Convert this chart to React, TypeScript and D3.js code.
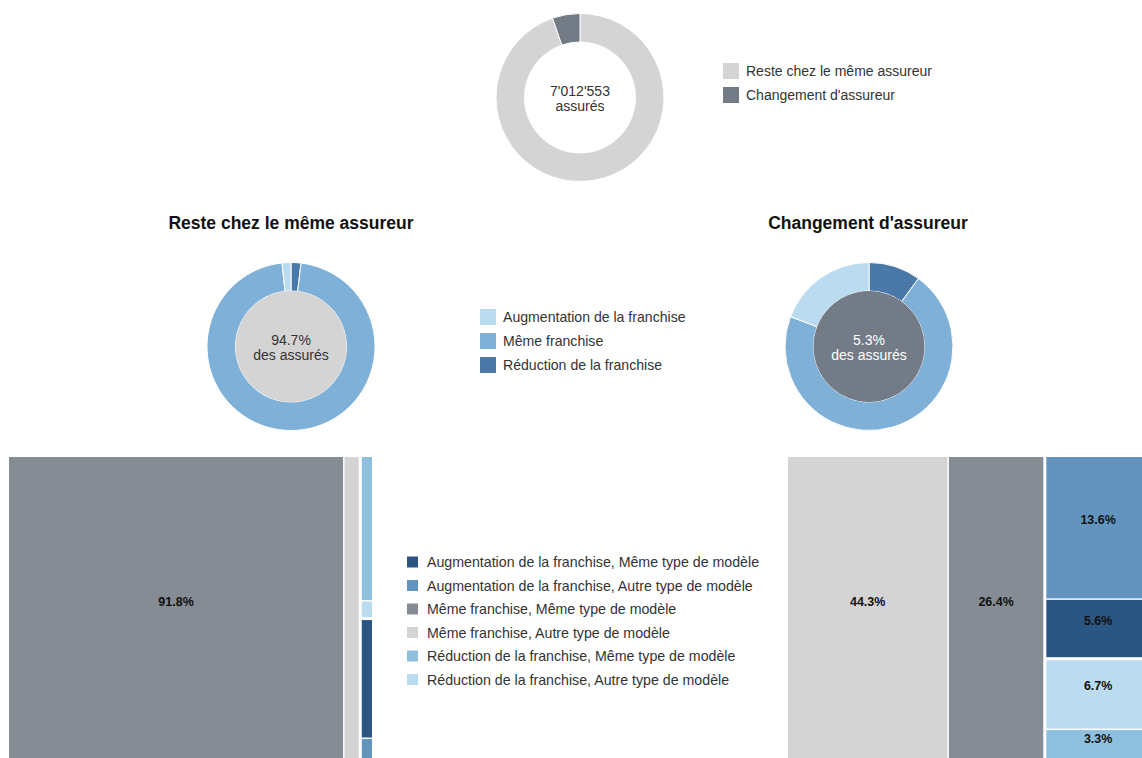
import React from "react";
import * as d3 from "d3";

const FONT = "'Liberation Sans', Arial, Helvetica, sans-serif";

// Top donut: all insured persons
const topLabels = ["Reste chez le même assureur", "Changement d'assureur"];
const topValues = [94.7, 5.3];
const topColors = ["#d4d4d4", "#737b87"];
const totalInsured = "7'012'553";

// Deductible change per group (legend order)
const franchiseLabels = ["Augmentation de la franchise", "Même franchise", "Réduction de la franchise"];
const franchiseColors = ["#bbdcf0", "#7fb0d8", "#4a78a8"];
const resteShares = [1.7, 96.1, 1.9];
const changementShares = [19.2, 70.7, 10.0];

// Treemaps: deductible x model type
const treeCategories = [
  "Augmentation de la franchise, Même type de modèle",
  "Augmentation de la franchise, Autre type de modèle",
  "Même franchise, Même type de modèle",
  "Même franchise, Autre type de modèle",
  "Réduction de la franchise, Même type de modèle",
  "Réduction de la franchise, Autre type de modèle",
];
const treeColors = ["#2b5582", "#6294be", "#858c93", "#d4d4d4", "#8fbfdf", "#bbdcf0"];
const resteTree = [1.4, 0.3, 91.8, 4.3, 1.7, 0.2];
const changementTree = [5.6, 13.6, 26.4, 44.3, 3.3, 6.7];

interface DonutProps {
  cx: number;
  cy: number;
  values: number[];
  colors: string[];
  centerFill?: string;
  lines: string[];
  textColor: string;
}

function Donut({ cx, cy, values, colors, centerFill, lines, textColor }: DonutProps) {
  const pie = d3.pie<number>().sort(null).value((d) => d);
  const arc = d3.arc<d3.PieArcDatum<number>>().innerRadius(55.5).outerRadius(84);
  const arcs = pie(values);
  return (
    <g transform={`translate(${cx},${cy})`}>
      {arcs.map((a, i) => (
        <path key={i} d={arc(a) ?? ""} fill={colors[i]} stroke="#fff" strokeWidth={1} />
      ))}
      {centerFill && <circle r={55.5} fill={centerFill} />}
      {lines.map((t, i) => (
        <text key={i} y={-2 + i * 15.5} textAnchor="middle" fontSize={14} fill={textColor}>
          {t}
        </text>
      ))}
    </g>
  );
}

interface LegendProps {
  x: number;
  y: number;
  labels: string[];
  colors: string[];
  size: number;
  step: number;
  textX: number;
  fontSize?: number;
}

function Legend({ x, y, labels, colors, size, step, textX, fontSize = 14 }: LegendProps) {
  return (
    <g transform={`translate(${x},${y})`}>
      {labels.map((l, i) => (
        <g key={l} transform={`translate(0,${i * step})`}>
          <rect x={0} y={-size / 2} width={size} height={size} fill={colors[i]} />
          <text x={textX} y={5} fontSize={fontSize} fill="#333">
            {l}
          </text>
        </g>
      ))}
    </g>
  );
}

interface Leaf {
  name: string;
  value?: number;
  color?: string;
  children?: Leaf[];
}

function Treemap({ x0, y0, x1, y1, values }: { x0: number; y0: number; x1: number; y1: number; values: number[] }) {
  const groups = Array.from(new Set(treeCategories.map((c) => c.split(", ")[0])));
  const data: Leaf = {
    name: "root",
    children: groups.map((g) => ({
      name: g,
      children: treeCategories
        .map((c, i) => ({ name: c, value: values[i], color: treeColors[i] }))
        .filter((c) => c.name.startsWith(g + ",")),
    })),
  };
  const root = d3
    .hierarchy<Leaf>(data)
    .sum((d) => d.value ?? 0)
    .sort((a, b) => (b.value ?? 0) - (a.value ?? 0));
  d3
    .treemap<Leaf>()
    .tile(d3.treemapSquarify)
    .size([x1 - x0, y1 - y0])
    .paddingInner((n) => (n.depth === 0 ? 3 : 1.5))(root);
  const leaves = root.leaves() as d3.HierarchyRectangularNode<Leaf>[];
  return (
    <g transform={`translate(${x0},${y0})`}>
      {leaves.map((l) => {
        const w = l.x1 - l.x0;
        const h = l.y1 - l.y0;
        return (
          <g key={l.data.name}>
            <rect x={l.x0} y={l.y0} width={w} height={h} fill={l.data.color} />
            {w > 30 && h > 20 && (
              <text
                x={(l.x0 + l.x1) / 2}
                y={(l.y0 + l.y1) / 2 - 4}
                textAnchor="middle"
                fontSize={12.5}
                fontWeight="bold"
                fill="#111"
              >
                {`${d3.format(".1f")(l.data.value ?? 0)}%`}
              </text>
            )}
          </g>
        );
      })}
    </g>
  );
}

export default function App() {
  const rev = <T,>(a: T[]) => [...a].reverse();
  return (
    <div style={{ position: "absolute", left: 0, top: 0 }}>
      <svg width={1142} height={758} style={{ display: "block", fontFamily: FONT }}>
        <rect width={1142} height={758} fill="#fff" />

        <Donut cx={580} cy={97.5} values={topValues} colors={topColors} lines={[totalInsured, "assurés"]} textColor="#333" />
        <Legend x={723} y={71} labels={topLabels} colors={topColors} size={16} step={24} textX={23} />

        <text x={291} y={229} textAnchor="middle" fontSize={17.5} fontWeight="bold" fill="#111">
          {topLabels[0]}
        </text>
        <text x={868} y={229} textAnchor="middle" fontSize={17.5} fontWeight="bold" fill="#111">
          {topLabels[1]}
        </text>

        <Donut
          cx={291}
          cy={346.5}
          values={rev(resteShares)}
          colors={rev(franchiseColors)}
          centerFill="#d4d4d4"
          lines={[`${topValues[0]}%`, "des assurés"]}
          textColor="#333"
        />
        <Donut
          cx={869}
          cy={346.5}
          values={rev(changementShares)}
          colors={rev(franchiseColors)}
          centerFill={topColors[1]}
          lines={[`${topValues[1]}%`, "des assurés"]}
          textColor="#fff"
        />
        <Legend x={480} y={317} labels={franchiseLabels} colors={franchiseColors} size={16} step={24} textX={23} fontSize={14.1} />

        <Treemap x0={9} y0={457} x1={372} y1={763} values={resteTree} />
        <Treemap x0={788} y0={457} x1={1150} y1={763} values={changementTree} />
        <Legend x={407} y={562} labels={treeCategories} colors={treeColors} size={11} step={23.5} textX={20} fontSize={14.2} />
      </svg>
    </div>
  );
}
